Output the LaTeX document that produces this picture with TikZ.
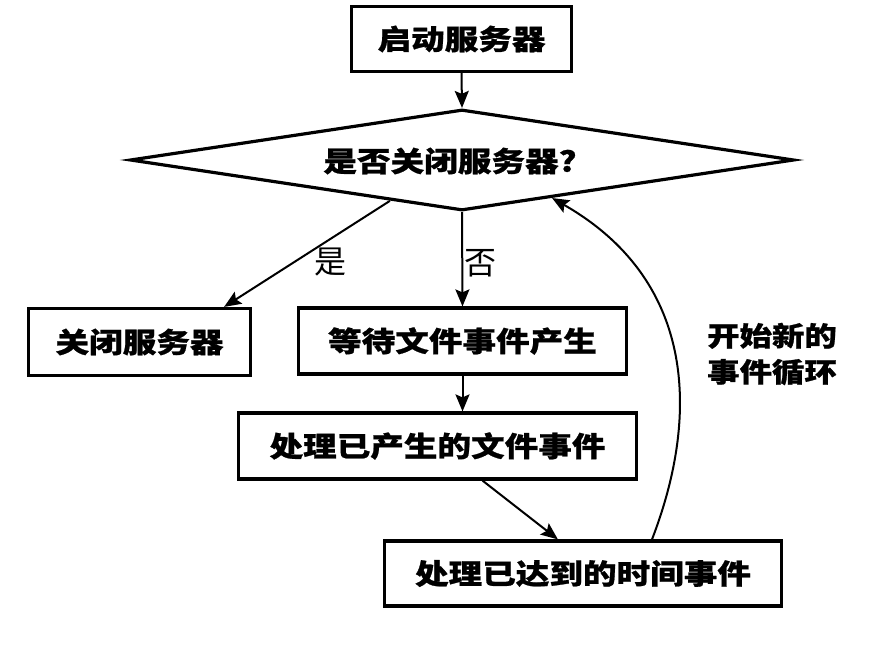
\documentclass[tikz,border=0pt]{standalone}
\usepackage{fontspec}
\newfontfamily\cjkw[FakeStretch=1.2,BoldFeatures={FakeBold=0.8}]{Noto Sans CJK SC}
\newfontfamily\cjkn{Noto Sans CJK SC}
\usetikzlibrary{shapes.geometric,arrows.meta,calc}
\begin{document}
\begin{tikzpicture}[x=1pt,y=-1pt,
  box/.style={draw,line width=3.2pt,inner sep=0pt,
    font=\cjkw\bfseries\fontsize{28}{30}\selectfont},
  decision/.style={draw,diamond,line width=3.2pt,inner sep=0pt,aspect=6.4,
    minimum width=664pt,minimum height=101pt},
  qtext/.style={font=\cjkw\bfseries\fontsize{28}{30}\selectfont,inner sep=0pt},
  arr/.style={line width=2pt,-{Stealth[length=17pt,width=14pt,inset=3pt]}},
  lbl/.style={font=\cjkn\fontsize{32}{34}\selectfont,inner sep=0pt},
  side/.style={font=\cjkw\bfseries\fontsize{27}{36}\selectfont,align=center,inner sep=0pt}]
\useasboundingbox (0,0) rectangle (880,646);
\fill[white] (0,0) rectangle (880,646);

\node[box,minimum width=220pt,minimum height=65pt] (start) at (461.5,39) {启动服务器};
\node[decision] (dec) at (462,160) {};
\node[qtext] (q) at (450,161) {是否关闭服务器?};
\node[box,minimum width=222pt,minimum height=67pt] (close) at (139.5,342) {关闭服务器};
\node[box,minimum width=328pt,minimum height=66pt] (wait) at (462.5,341) {等待文件事件产生};
\node[box,minimum width=398pt,minimum height=66pt] (file) at (437.5,446) {处理已产生的文件事件};
\node[box,minimum width=397pt,minimum height=65pt] (time) at (583,573.5) {处理已达到的时间事件};

\node[lbl] (yes) at (330,262) {是};
\node[lbl] (no) at (480,263) {否};
\node[side] (loop) at (772,354) {开始新的\\事件循环};

\coordinate (yesA) at ($(dec.south)!0.216!(dec.west)$);
\coordinate (yesB) at ($(close.north east)+(-28,0)$);
\coordinate (loopB) at ($(dec.south)!0.27!(dec.east)$);
\coordinate (loopA) at ($(time.north)+(69,0)$);
\coordinate (diagA) at ($(file.south)+(45,0)$);
\coordinate (diagB) at ($(time.north west)+(175,0)$);

\draw[arr] (start.south) -- (dec.north);
\draw[arr] (yesA) -- (yesB);
\draw[arr] (dec.south) -- (wait.north);
\draw[arr] (wait.south) -- (wait.south |- file.north);
\draw[arr] (diagA) -- (diagB);
\draw[arr] (loopA) .. controls ($(loopA)+(50,-130)$) and ($(loopB)+(140,80)$) .. (loopB);
\end{tikzpicture}
\end{document}
